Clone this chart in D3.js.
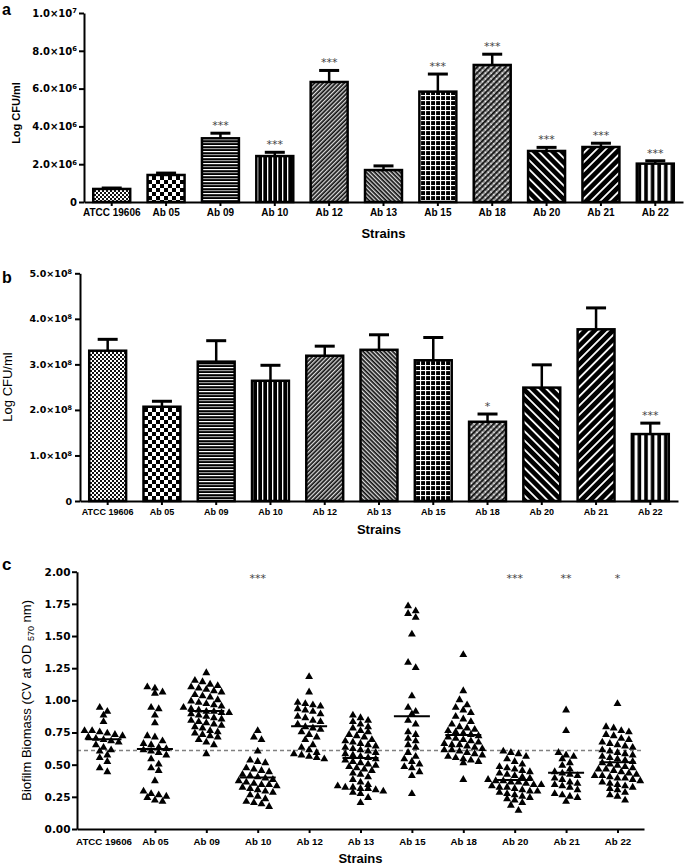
<!DOCTYPE html>
<html><head><meta charset="utf-8">
<script src="https://cdn.jsdelivr.net/npm/d3@7/dist/d3.min.js"></script>
<style>body{margin:0;background:#fff}svg{display:block}</style>
</head><body>
<svg id="chart" width="685" height="865"></svg>
<script>
// ---------- DATA ----------
const strains = ["ATCC 19606","Ab 05","Ab 09","Ab 10","Ab 12","Ab 13","Ab 15","Ab 18","Ab 20","Ab 21","Ab 22"];

// Panel a (Log CFU/ml)
const aMean = [0.69e6,1.43e6,3.37e6,2.43e6,6.35e6,1.69e6,5.84e6,7.25e6,2.70e6,2.91e6,2.03e6];
const aSEM  = [0.05e6,0.10e6,0.27e6,0.20e6,0.61e6,0.22e6,0.93e6,0.57e6,0.19e6,0.20e6,0.15e6];
const aSig  = ["","","***","***","***","","***","***","***","***","***"];
const aTicks = [0,2e6,4e6,6e6,8e6,1e7];
const aTickMant = ["0","2.0","4.0","6.0","8.0","1.0"];
const aTickExp  = ["","6","6","6","6","7"];

// Panel b (Log CFU/ml)
const bMean = [3.30e8,2.07e8,3.06e8,2.64e8,3.19e8,3.32e8,3.09e8,1.74e8,2.49e8,3.77e8,1.47e8];
const bSEM  = [0.25e8,0.12e8,0.46e8,0.34e8,0.21e8,0.33e8,0.50e8,0.17e8,0.50e8,0.47e8,0.24e8];
const bSig  = ["","","","","","","","*","","","***"];
const bTicks = [0,1e8,2e8,3e8,4e8,5e8];
const bTickMant = ["0","1.0","2.0","3.0","4.0","5.0"];
const bTickExp  = ["","8","8","8","8","8"];

// Panel c (Biofilm biomass, individual measurements)
const cATCC = [0.95,0.92,0.89,0.84,0.77,0.77,0.76,0.75,0.74,0.73,0.72,0.71,0.70,0.69,0.68,0.66,0.64,0.62,0.61,0.58,0.56,0.53,0.48,0.45];
const cAb05 = [1.11,1.10,1.07,1.06,0.95,0.94,0.89,0.83,0.73,0.72,0.69,0.67,0.66,0.64,0.63,0.62,0.61,0.60,0.58,0.55,0.51,0.48,0.46,0.38,0.30,0.28,0.27,0.26,0.25,0.23,0.22];
const cAb09 = [1.22,1.16,1.15,1.13,1.12,1.11,1.10,1.09,1.08,1.07,1.05,1.04,1.03,1.01,1.00,0.99,0.98,0.97,0.96,0.95,0.94,0.93,0.92,0.92,0.91,0.91,0.90,0.89,0.88,0.87,0.86,0.85,0.84,0.83,0.82,0.81,0.80,0.79,0.77,0.76,0.75,0.74,0.73,0.72,0.70,0.68,0.66,0.59];
const cAb10 = [0.77,0.72,0.70,0.61,0.54,0.53,0.52,0.48,0.47,0.46,0.45,0.43,0.42,0.41,0.40,0.39,0.38,0.37,0.36,0.35,0.35,0.34,0.33,0.32,0.31,0.30,0.29,0.27,0.26,0.24,0.22,0.21,0.20,0.18];
const cAb12 = [1.19,1.07,0.99,0.98,0.97,0.96,0.94,0.93,0.92,0.90,0.88,0.87,0.85,0.84,0.82,0.80,0.79,0.78,0.76,0.74,0.72,0.70,0.66,0.64,0.62,0.60,0.59,0.58,0.57,0.56,0.55];
const cAb13 = [0.89,0.87,0.85,0.84,0.82,0.80,0.79,0.77,0.76,0.74,0.73,0.72,0.70,0.69,0.68,0.67,0.66,0.65,0.64,0.63,0.62,0.61,0.60,0.59,0.58,0.57,0.56,0.55,0.54,0.53,0.52,0.51,0.50,0.49,0.48,0.47,0.46,0.44,0.43,0.41,0.39,0.37,0.35,0.34,0.33,0.33,0.32,0.32,0.31,0.30,0.29,0.28,0.25,0.21];
const cAb15 = [1.74,1.70,1.68,1.65,1.52,1.30,1.26,1.04,0.95,0.92,0.90,0.85,0.82,0.76,0.74,0.71,0.69,0.66,0.64,0.60,0.57,0.55,0.53,0.51,0.49,0.48,0.45,0.42,0.28];
const cAb18 = [1.36,1.08,1.01,0.97,0.95,0.93,0.91,0.88,0.86,0.84,0.82,0.80,0.79,0.78,0.77,0.76,0.75,0.74,0.73,0.72,0.71,0.70,0.69,0.68,0.67,0.66,0.66,0.65,0.64,0.63,0.62,0.62,0.61,0.60,0.59,0.58,0.57,0.56,0.55,0.54,0.53,0.52,0.39];
const cAb20 = [0.61,0.60,0.59,0.57,0.55,0.53,0.51,0.49,0.48,0.47,0.46,0.45,0.44,0.43,0.42,0.41,0.40,0.39,0.38,0.38,0.37,0.37,0.36,0.35,0.35,0.34,0.33,0.33,0.32,0.31,0.30,0.30,0.29,0.28,0.27,0.26,0.25,0.24,0.23,0.21,0.19,0.15];
const cAb21 = [0.93,0.77,0.60,0.58,0.57,0.55,0.52,0.50,0.47,0.45,0.44,0.43,0.42,0.40,0.39,0.37,0.36,0.35,0.34,0.33,0.31,0.28,0.27,0.26,0.25,0.22];
const cAb22 = [0.98,0.80,0.79,0.77,0.76,0.74,0.73,0.71,0.70,0.68,0.67,0.66,0.65,0.64,0.62,0.61,0.60,0.59,0.58,0.57,0.56,0.55,0.54,0.53,0.52,0.51,0.50,0.49,0.48,0.47,0.47,0.46,0.45,0.44,0.43,0.42,0.42,0.41,0.40,0.40,0.39,0.38,0.37,0.36,0.35,0.34,0.33,0.32,0.31,0.29,0.27,0.26,0.23];
const cGroups = [cATCC,cAb05,cAb09,cAb10,cAb12,cAb13,cAb15,cAb18,cAb20,cAb21,cAb22];
const cSig  = ["","","","***","","","","","***","**","*"];
const cTicks = [0,0.25,0.5,0.75,1.0,1.25,1.5,1.75,2.0];
const cRef = 0.61;

// ---------- DRAW ----------
const svg = d3.select("#chart");
const defs = svg.append("defs");
const TICKFONT = "'DejaVu Sans', sans-serif";
const LABFONT = "'Liberation Sans', Arial, sans-serif";

function pattern(id, w, h, bg, draw, transform) {
  const p = defs.append("pattern").attr("id", id).attr("patternUnits", "userSpaceOnUse")
    .attr("width", w).attr("height", h);
  if (transform) p.attr("patternTransform", transform);
  p.append("rect").attr("width", w).attr("height", h).attr("fill", bg);
  draw(p);
}
// one pattern per strain
pattern("p0", 4, 4, "#fff", p => { p.append("rect").attr("width",2).attr("height",2).attr("fill","#111");
  p.append("rect").attr("x",2).attr("y",2).attr("width",2).attr("height",2).attr("fill","#111"); });
pattern("p1", 8, 8, "#fff", p => { p.append("rect").attr("width",4).attr("height",4).attr("fill","#000");
  p.append("rect").attr("x",4).attr("y",4).attr("width",4).attr("height",4).attr("fill","#000"); });
pattern("p2", 6, 6, "#000", p => { p.append("rect").attr("y",1).attr("width",6).attr("height",1.2).attr("fill","#fff");
  p.append("rect").attr("y",4).attr("width",6).attr("height",1.2).attr("fill","#999"); });
pattern("p3", 5, 5, "#000", p => { p.append("rect").attr("x",2).attr("width",1.3).attr("height",5).attr("fill","#fff"); });
pattern("p4", 3, 3, "#111", p => { p.append("rect").attr("width",1.3).attr("height",3).attr("fill","#ddd"); }, "rotate(45)");
pattern("p5", 3, 3, "#111", p => { p.append("rect").attr("width",1.3).attr("height",3).attr("fill","#ddd"); }, "rotate(-45)");
pattern("p6", 5, 5, "#000", p => { p.append("rect").attr("width",1.1).attr("height",5).attr("fill","#fff");
  p.append("rect").attr("width",5).attr("height",1.1).attr("fill","#fff"); });
pattern("p7", 4, 4, "#999", p => { p.append("rect").attr("width",1.8).attr("height",4).attr("fill","#111");
  p.append("rect").attr("x",1.8).attr("y",0).attr("width",2.2).attr("height",1).attr("fill","#eee"); }, "rotate(45)");
pattern("p8", 6.5, 6.5, "#000", p => { p.append("rect").attr("width",1.8).attr("height",6.5).attr("fill","#fff"); }, "rotate(-45)");
pattern("p9", 6.5, 6.5, "#000", p => { p.append("rect").attr("width",1.8).attr("height",6.5).attr("fill","#fff"); }, "rotate(45)");
pattern("p10", 6.6, 6.6, "#000", p => { p.append("rect").attr("x",1).attr("width",3).attr("height",6.6).attr("fill","#fff"); });

function sciText(textSel, mant, exp) {
  textSel.text(null);
  textSel.append("tspan").text(mant);
  if (exp) {
    textSel.append("tspan").text("×10");
    textSel.append("tspan").attr("dy", "-0.5em").attr("font-size", "0.68em").text(exp);
  }
}

function styleAxis(g) {
  g.select(".domain").attr("stroke", "#000").attr("stroke-width", 2);
  g.selectAll(".tick line").attr("stroke", "#000").attr("stroke-width", 2);
}

function barPanel(cfg) {
  const x = d3.scaleBand().domain(strains).range([cfg.x0, cfg.x1]).paddingInner(0.32).paddingOuter(0.17);
  const y = d3.scaleLinear().domain([0, cfg.max]).range([cfg.yb, cfg.yt]);
  const g = svg.append("g");

  g.selectAll("rect.bar").data(strains).join("rect").attr("class","bar")
    .attr("x", d => x(d)).attr("width", x.bandwidth())
    .attr("y", (d,i) => y(cfg.mean[i])).attr("height", (d,i) => y(0) - y(cfg.mean[i]))
    .attr("fill", (d,i) => `url(#p${i})`).attr("stroke", "#000").attr("stroke-width", 2.5);
  g.selectAll("line.err").data(strains).join("line").attr("class","err")
    .attr("x1", d => x(d) + x.bandwidth()/2).attr("x2", d => x(d) + x.bandwidth()/2)
    .attr("y1", (d,i) => y(cfg.mean[i])).attr("y2", (d,i) => y(cfg.mean[i] + cfg.sem[i]))
    .attr("stroke", "#000").attr("stroke-width", 2.5);
  g.selectAll("line.cap").data(strains).join("line").attr("class","cap")
    .attr("x1", d => x(d) + x.bandwidth()/2 - 10).attr("x2", d => x(d) + x.bandwidth()/2 + 10)
    .attr("y1", (d,i) => y(cfg.mean[i] + cfg.sem[i])).attr("y2", (d,i) => y(cfg.mean[i] + cfg.sem[i]))
    .attr("stroke", "#000").attr("stroke-width", 3);
  g.selectAll("text.sig").data(strains).join("text").attr("class","sig")
    .attr("x", d => x(d) + x.bandwidth()/2)
    .attr("y", (d,i) => y(cfg.mean[i] + cfg.sem[i]) - 4)
    .attr("text-anchor", "middle").attr("font-family", TICKFONT).attr("font-size", 11).attr("fill", "#444")
    .text((d,i) => cfg.sig[i]);

  const ya = g.append("g").attr("transform", `translate(${cfg.x0},0)`)
    .call(d3.axisLeft(y).tickValues(cfg.ticks).tickSize(5).tickSizeOuter(0).tickPadding(cfg.ytickPad));
  styleAxis(ya);
  ya.selectAll(".tick text").attr("font-family", TICKFONT).attr("font-weight", "bold")
    .attr("font-size", cfg.ytickSize).attr("fill", "#000")
    .each(function(d, i) { sciText(d3.select(this), cfg.tickMant[i], cfg.tickExp[i]); });

  const xa = g.append("g").attr("transform", `translate(0,${cfg.yb})`)
    .call(d3.axisBottom(x).tickSize(4).tickSizeOuter(0).tickPadding(cfg.xtickPad));
  styleAxis(xa);
  xa.selectAll(".tick text").attr("font-family", LABFONT).attr("font-weight", "bold")
    .attr("font-size", cfg.xtickSize).attr("fill", "#000");

  svg.append("text").attr("x", (cfg.x0 + cfg.x1)/2).attr("y", cfg.xTitleY).attr("text-anchor","middle")
    .attr("font-family", LABFONT).attr("font-weight","bold").attr("font-size", 13).text("Strains");
  svg.append("text").attr("transform", `translate(${cfg.yTitleX},${cfg.yTitleY}) rotate(-90)`)
    .attr("text-anchor","middle").attr("font-family", LABFONT)
    .attr("font-weight", cfg.yTitleBold ? "bold" : "normal").attr("font-size", cfg.yTitleSize).text("Log CFU/ml");
  svg.append("text").attr("x", 2).attr("y", cfg.letterY).attr("font-family", LABFONT)
    .attr("font-weight","bold").attr("font-size", 16).text(cfg.letter);
}

barPanel({ letter:"a", letterY:15, x0:84, x1:683, yt:13, yb:202, max:1e7,
  mean:aMean, sem:aSEM, sig:aSig, ticks:aTicks, tickMant:aTickMant, tickExp:aTickExp,
  ytickPad:2, ytickSize:10, xtickPad:3, xtickSize:10, xTitleY:238,
  yTitleX:20, yTitleY:113, yTitleBold:true, yTitleSize:11 });

barPanel({ letter:"b", letterY:283, x0:80, x1:678, yt:273.3, yb:501, max:5e8,
  mean:bMean, sem:bSEM, sig:bSig, ticks:bTicks, tickMant:bTickMant, tickExp:bTickExp,
  ytickPad:3, ytickSize:9.5, xtickPad:4, xtickSize:9, xTitleY:534,
  yTitleX:12, yTitleY:387, yTitleBold:false, yTitleSize:13 });

// ---------- Panel c: scatter ----------
(function() {
  const x0 = 77, x1 = 644, yt = 571.7, yb = 829;
  const x = d3.scalePoint().domain(strains).range([x0, x1]).padding(0.516);
  const y = d3.scaleLinear().domain([0, 2]).range([yb, yt]);
  const g = svg.append("g");

  g.append("line").attr("x1", x0).attr("x2", x1).attr("y1", y(cRef)).attr("y2", y(cRef))
    .attr("stroke", "#808080").attr("stroke-width", 1.6).attr("stroke-dasharray", "4,3");

  const tri = d3.symbol().type(d3.symbolTriangle).size(27);
  const spacing = 7.6, rowH = 6;
  cGroups.forEach((vals, gi) => {
    const cx = x(strains[gi]);
    const sorted = vals.slice().sort((a, b) => b - a);
    const rows = [];
    sorted.forEach(v => {
      const last = rows[rows.length - 1];
      if (last && Math.abs(y(v) - y(last[0])) < rowH) last.push(v); else rows.push([v]);
    });
    const pts = [];
    rows.forEach(r => r.forEach((v, i) => pts.push({ v, dx: (i - (r.length - 1) / 2) * spacing })));
    g.append("g").selectAll("path").data(pts).join("path")
      .attr("d", tri).attr("fill", "#000")
      .attr("transform", d => `translate(${cx + d.dx},${y(d.v) + 0.8})`);
    const m = d3.mean(vals);
    g.append("line").attr("x1", cx - 18).attr("x2", cx + 18).attr("y1", y(m)).attr("y2", y(m))
      .attr("stroke", "#000").attr("stroke-width", 2);
  });

  g.selectAll("text.sig").data(strains).join("text").attr("class","sig")
    .attr("x", d => x(d)).attr("y", y(1.92)).attr("text-anchor","middle")
    .attr("font-family", TICKFONT).attr("font-size", 11).attr("fill", "#444")
    .text((d, i) => cSig[i]);

  const ya = g.append("g").attr("transform", `translate(${x0},0)`)
    .call(d3.axisLeft(y).tickValues(cTicks).tickFormat(d3.format(".2f")).tickSize(5).tickSizeOuter(0).tickPadding(1.5));
  styleAxis(ya);
  ya.selectAll(".tick text").attr("font-family", TICKFONT).attr("font-weight","bold")
    .attr("font-size", 10.5).attr("fill", "#000");

  const xa = g.append("g").attr("transform", `translate(0,${yb})`)
    .call(d3.axisBottom(x).tickSize(4).tickSizeOuter(0).tickPadding(5));
  styleAxis(xa);
  xa.selectAll(".tick text").attr("font-family", LABFONT).attr("font-weight","bold")
    .attr("font-size", 9.7).attr("fill", "#000");

  svg.append("text").attr("x", (x0 + x1) / 2).attr("y", 863).attr("text-anchor","middle")
    .attr("font-family", LABFONT).attr("font-weight","bold").attr("font-size", 13).text("Strains");
  const yl = svg.append("text").attr("transform", `translate(31,${(yt + yb) / 2}) rotate(-90)`)
    .attr("text-anchor","middle").attr("font-family", LABFONT).attr("font-size", 13);
  yl.append("tspan").text("Biofilm Biomass (CV at OD ");
  yl.append("tspan").attr("font-size", 9).attr("dy", 3).text("570");
  yl.append("tspan").attr("dy", -3).text(" nm)");
  svg.append("text").attr("x", 2).attr("y", 570).attr("font-family", LABFONT)
    .attr("font-weight","bold").attr("font-size", 17).text("c");
})();
</script>
</body></html>
